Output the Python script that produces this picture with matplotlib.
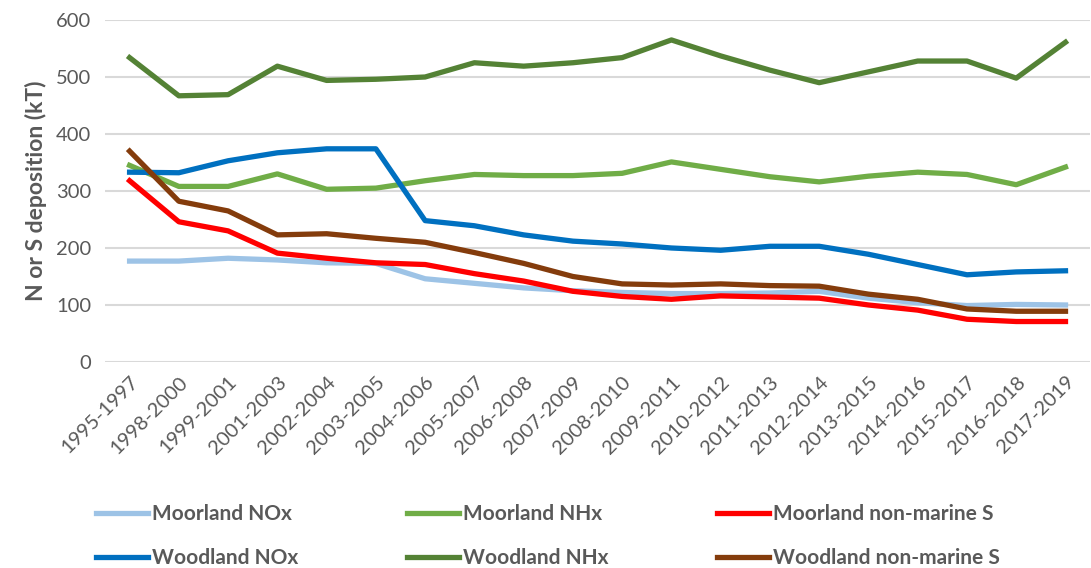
import numpy as np
import matplotlib.pyplot as plt

plt.rcParams['font.family'] = ['Lato', 'DejaVu Sans']

periods = ['1995-1997', '1998-2000', '1999-2001', '2001-2003', '2002-2004',
           '2003-2005', '2004-2006', '2005-2007', '2006-2008', '2007-2009',
           '2008-2010', '2009-2011', '2010-2012', '2011-2013', '2012-2014',
           '2013-2015', '2014-2016', '2015-2017', '2016-2018', '2017-2019']

moor_nox = [177, 177, 182, 179, 174, 173, 146, 138, 130, 125,
            122, 120, 120, 121, 124, 112, 104, 99, 101, 100]
moor_nhx = [345, 308, 308, 330, 303, 305, 318, 329, 327, 327,
            331, 351, 338, 325, 316, 326, 333, 329, 311, 342]
moor_s = [318, 246, 230, 191, 182, 174, 171, 155, 142, 124,
          115, 110, 116, 114, 112, 100, 91, 75, 71, 71]
wood_nox = [333, 332, 353, 367, 374, 374, 248, 239, 223, 212,
            207, 200, 196, 203, 203, 189, 171, 153, 158, 160]
wood_nhx = [534, 467, 469, 519, 494, 496, 500, 525, 519, 525,
            534, 565, 537, 512, 490, 509, 528, 528, 498, 561]
wood_s = [370, 282, 265, 223, 225, 217, 210, 192, 173, 150,
          137, 135, 137, 134, 133, 119, 110, 93, 89, 89]

fig = plt.figure(figsize=(10.91, 5.68), dpi=100)
ax = fig.add_axes([0.0962, 0.3627, 0.903, 0.6021])

x = np.arange(len(periods))
lw = 3.8
l1, = ax.plot(x, moor_nox, color='#9DC3E6', lw=lw, label='Moorland NOx')
l2, = ax.plot(x, moor_nhx, color='#70AD47', lw=lw, label='Moorland NHx')
l4, = ax.plot(x, wood_nox, color='#0070C0', lw=lw, label='Woodland NOx')
l5, = ax.plot(x, wood_nhx, color='#548235', lw=lw, label='Woodland NHx')
l6, = ax.plot(x, wood_s, color='#843C0C', lw=lw, label='Woodland non-marine S')
l3, = ax.plot(x, moor_s, color='#FF0000', lw=lw, label='Moorland non-marine S')

ax.set_xlim(-0.5, len(periods) - 0.5)
ax.set_ylim(0, 600)
ax.set_yticks(range(0, 601, 100))
ax.set_xticks(x)
ax.set_xticklabels(periods, rotation=45, ha='right', rotation_mode='anchor')
ax.tick_params(length=0, colors='#595959', labelsize=14.5)
ax.tick_params(axis='x', pad=8)
ax.tick_params(axis='y', pad=10)
ax.grid(axis='y', color='#D9D9D9', lw=1.5)
ax.set_axisbelow(True)
for s in ax.spines.values():
    s.set_visible(False)

ax.set_ylabel('N or S deposition (kT)', fontsize=16.5, fontweight='bold',
              color='#595959', labelpad=6)

leg = fig.legend([l1, l4, l2, l5, l3, l6],
                 ['Moorland NOx', 'Woodland NOx', 'Moorland NHx',
                  'Woodland NHx', 'Moorland non-marine S', 'Woodland non-marine S'],
                 ncol=3, loc='center left', bbox_to_anchor=(0.071, 0.056),
                 frameon=False, handlelength=2.5, handletextpad=0.2,
                 columnspacing=5.2, labelspacing=1.15,
                 prop={'size': 15, 'weight': 'bold'})
for t in leg.get_texts():
    t.set_color('#595959')

fig.savefig('out.png', dpi=100)
